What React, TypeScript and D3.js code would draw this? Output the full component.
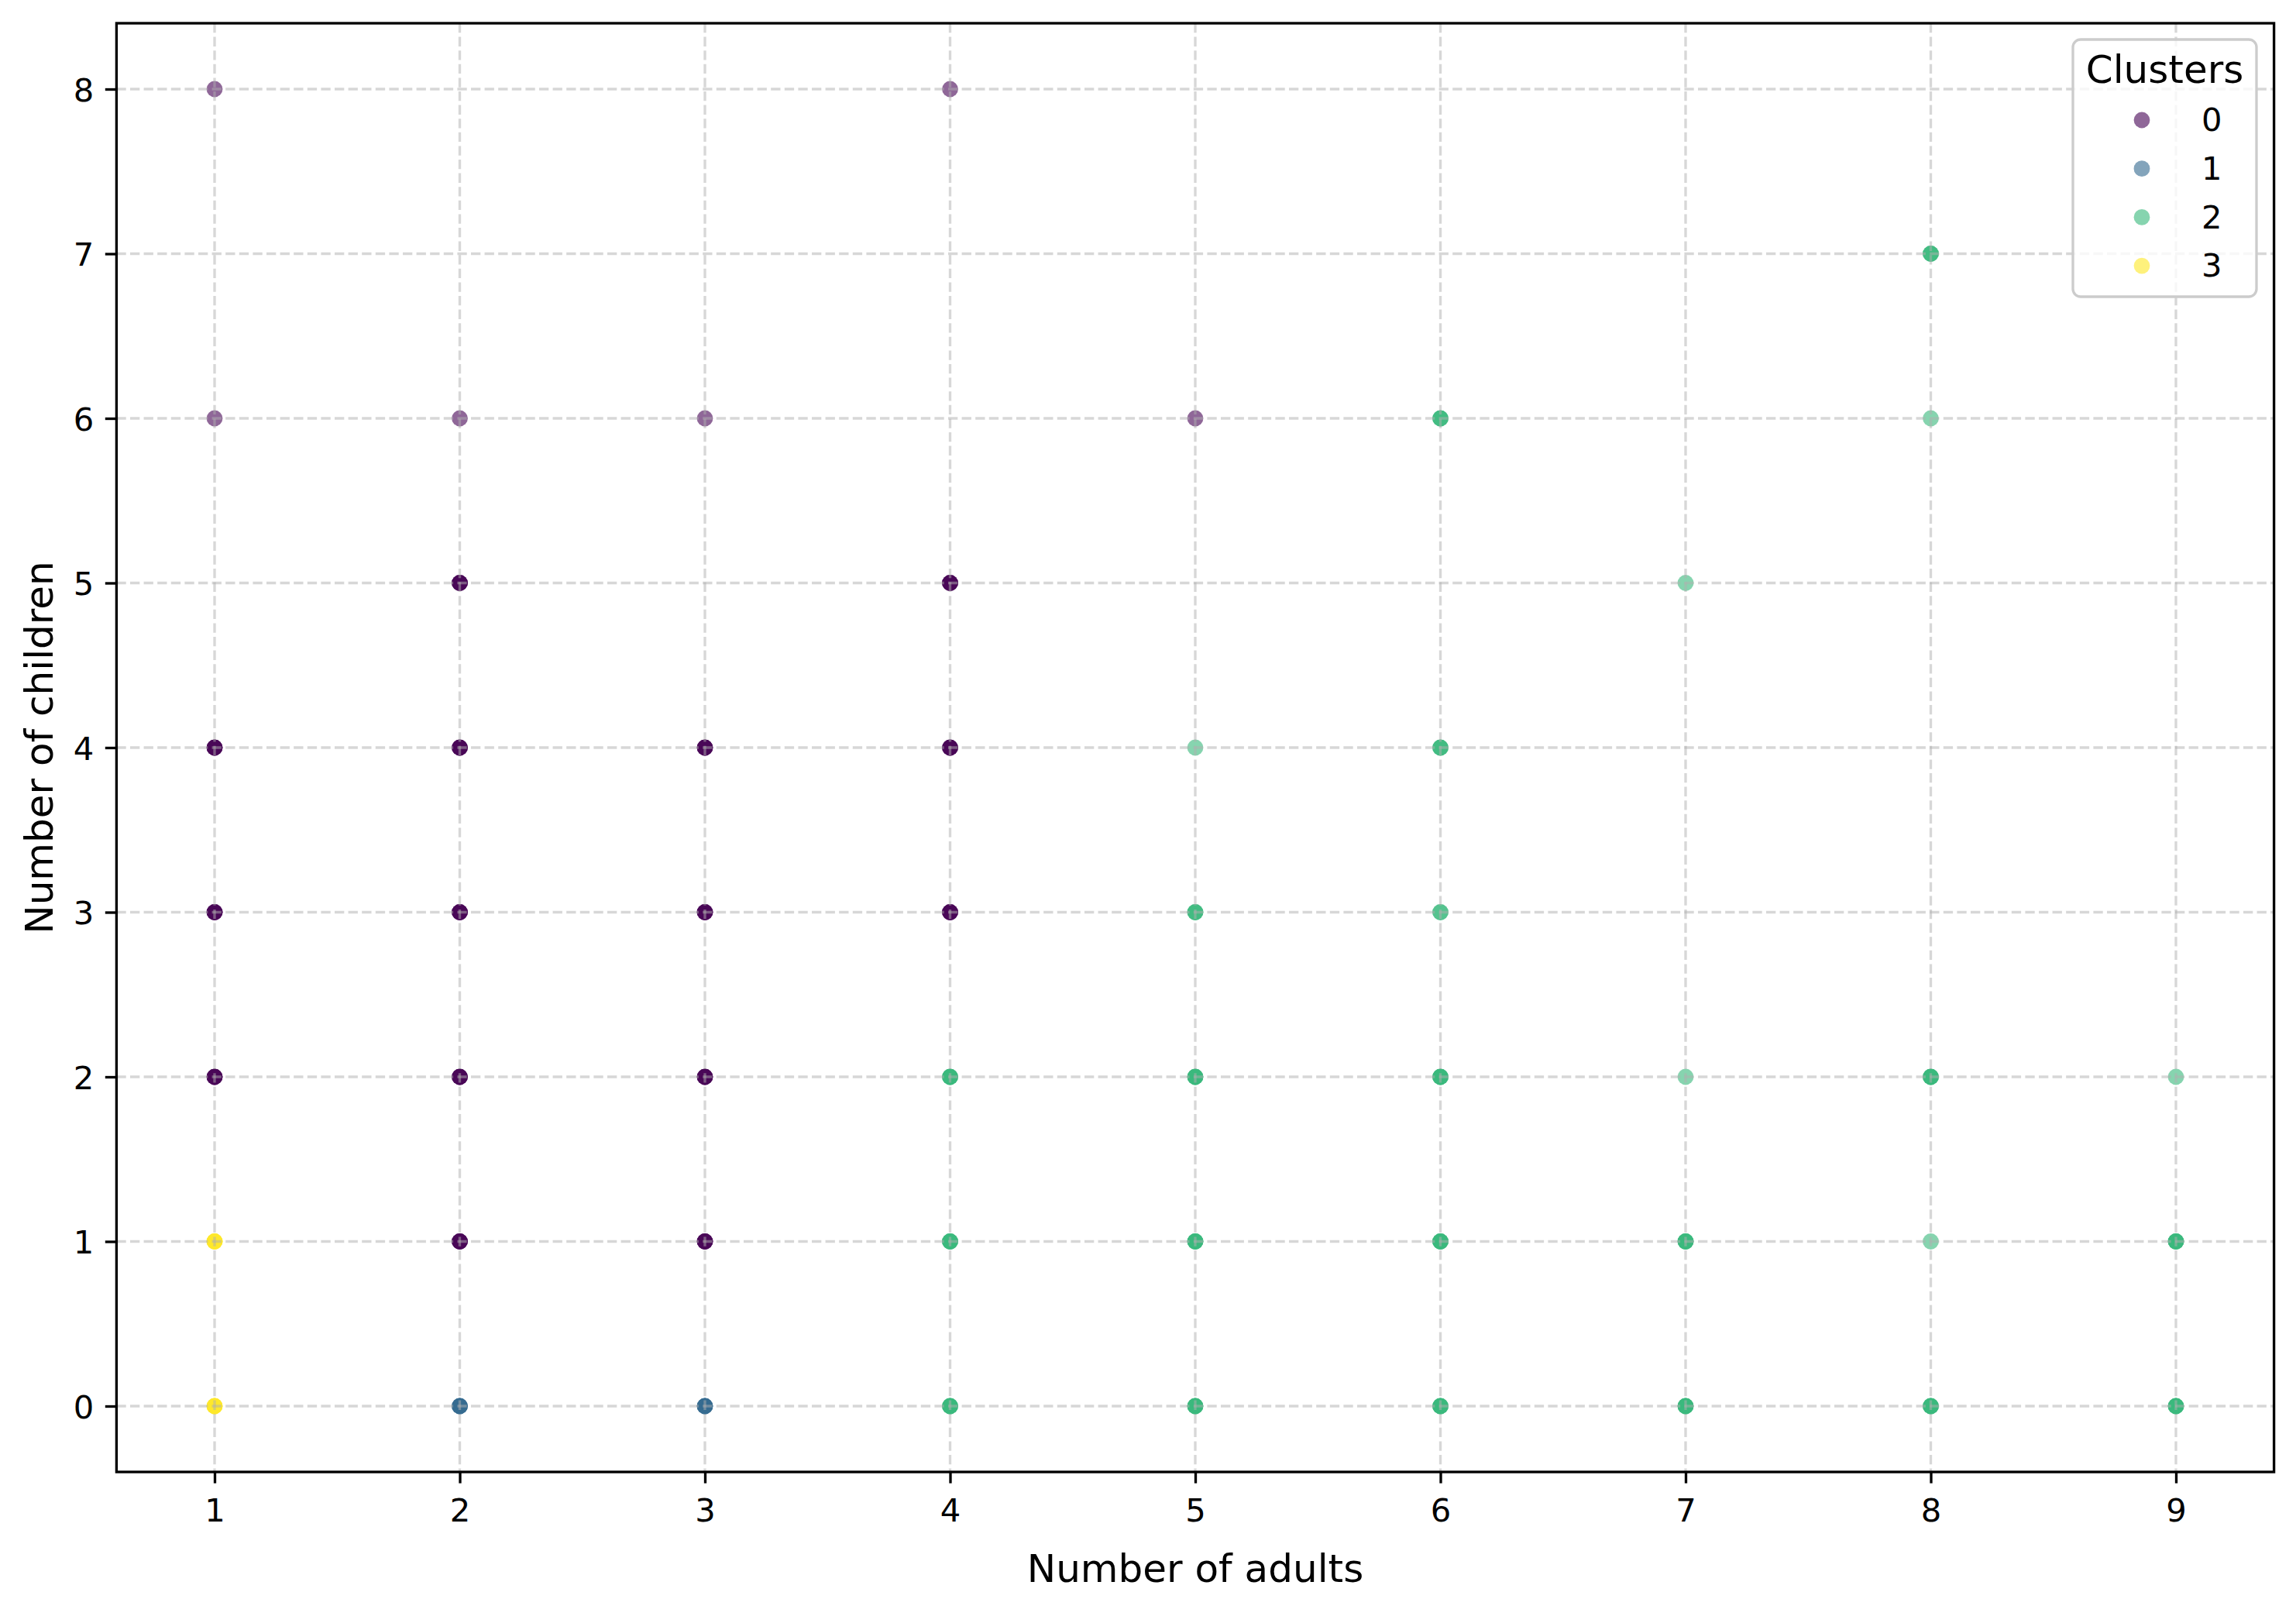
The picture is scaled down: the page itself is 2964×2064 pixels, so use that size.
import { useEffect, useRef } from 'react';
import * as d3 from 'd3';

// Scatter of households: adults vs children, coloured by k-means cluster.
// Dark markers are locations where several households overlap (alpha 0.6).
const adults = [1, 1, 2, 3, 4, 5, 2, 4, 1, 2, 3, 4, 1, 2, 3, 4, 1, 2, 3, 2, 3, 2, 3, 1, 1, 8, 8, 6, 7, 5, 6, 5, 6, 4, 5, 6, 7, 8, 9, 4, 5, 6, 7, 8, 9, 4, 5, 6, 7, 8, 9];
const children = [8, 6, 6, 6, 8, 6, 5, 5, 4, 4, 4, 4, 3, 3, 3, 3, 2, 2, 2, 1, 1, 0, 0, 1, 0, 7, 6, 6, 5, 4, 4, 3, 3, 2, 2, 2, 2, 2, 2, 1, 1, 1, 1, 1, 1, 0, 0, 0, 0, 0, 0];
const cluster = [0, 0, 0, 0, 0, 0, 0, 0, 0, 0, 0, 0, 0, 0, 0, 0, 0, 0, 0, 0, 0, 1, 1, 3, 3, 2, 2, 2, 2, 2, 2, 2, 2, 2, 2, 2, 2, 2, 2, 2, 2, 2, 2, 2, 2, 2, 2, 2, 2, 2, 2];
const overlap = [1, 1, 1, 1, 1, 1, 4, 4, 4, 4, 4, 4, 4, 4, 4, 4, 4, 4, 4, 4, 4, 4, 4, 4, 4, 3, 1, 3, 1, 1, 3, 3, 2, 4, 4, 4, 1, 4, 1, 4, 4, 4, 4, 1, 4, 4, 4, 4, 4, 4, 4];

const clusterLabels = ['0', '1', '2', '3'];
const xTicks = [1, 2, 3, 4, 5, 6, 7, 8, 9];
const yTicks = [0, 1, 2, 3, 4, 5, 6, 7, 8];

const W = 2964;
const H = 2064;
const FONT = '"DejaVu Sans", sans-serif';

export default function App() {
  const svgRef = useRef<SVGSVGElement>(null);

  useEffect(() => {
    document.body.style.margin = '0';
    if (!svgRef.current) return;

    const margin = { top: 30, right: W - 2935.6, bottom: H - 1900, left: 150.4 };
    const lw = 3.33; // 0.8pt at 300 dpi
    const tick = 14.6;

    const svg = d3.select(svgRef.current);
    svg.selectAll('*').remove();

    const x = d3.scaleLinear().domain([0.6, 9.4]).range([margin.left, W - margin.right]);
    const y = d3.scaleLinear().domain([-0.4, 8.4]).range([H - margin.bottom, margin.top]);
    const color = d3.scaleSequential(d3.interpolateViridis).domain([0, 3]);

    const points = adults.flatMap((a, i) =>
      d3.range(overlap[i]).map(() => ({ a, c: children[i], k: cluster[i] })),
    );

    // Punkte
    svg
      .append('g')
      .selectAll('circle')
      .data(points)
      .enter()
      .append('circle')
      .attr('cx', (d) => x(d.a))
      .attr('cy', (d) => y(d.c))
      .attr('r', 10.4)
      .attr('fill', (d) => color(d.k))
      .attr('fill-opacity', 0.6);

    // Grid (drawn above the scatter, like matplotlib)
    const grid = svg
      .append('g')
      .attr('stroke', '#b0b0b0')
      .attr('stroke-opacity', 0.5)
      .attr('stroke-width', lw)
      .attr('stroke-dasharray', '12.3,5.3');
    grid
      .selectAll('.gx')
      .data(xTicks)
      .enter()
      .append('line')
      .attr('x1', (d) => x(d))
      .attr('x2', (d) => x(d))
      .attr('y1', margin.top)
      .attr('y2', H - margin.bottom);
    grid
      .selectAll('.gy')
      .data(yTicks)
      .enter()
      .append('line')
      .attr('x1', margin.left)
      .attr('x2', W - margin.right)
      .attr('y1', (d) => y(d))
      .attr('y2', (d) => y(d));

    // Osi
    const xAxis = svg
      .append('g')
      .attr('transform', `translate(0,${H - margin.bottom})`)
      .call(d3.axisBottom(x).tickValues(xTicks).tickFormat(d3.format('d')).tickSize(tick).tickPadding(tick));
    xAxis.selectAll('text').attr('dy', '0.83em');

    const yAxis = svg
      .append('g')
      .attr('transform', `translate(${margin.left},0)`)
      .call(d3.axisLeft(y).tickValues(yTicks).tickFormat(d3.format('d')).tickSize(tick).tickPadding(tick));
    yAxis.selectAll('text').attr('dy', '0.36em');

    for (const ax of [xAxis, yAxis]) {
      ax.select('.domain').remove();
      ax.selectAll('.tick line').attr('stroke', '#000').attr('stroke-width', lw);
      ax.selectAll('text')
        .attr('fill', '#000')
        .style('font-family', FONT)
        .style('font-size', '41.7px');
    }

    // Spines
    svg
      .append('rect')
      .attr('x', margin.left)
      .attr('y', margin.top)
      .attr('width', W - margin.left - margin.right)
      .attr('height', H - margin.top - margin.bottom)
      .attr('fill', 'none')
      .attr('stroke', '#000')
      .attr('stroke-width', lw);

    // Axis labels
    svg
      .append('text')
      .attr('x', (margin.left + W - margin.right) / 2)
      .attr('y', 2042)
      .attr('text-anchor', 'middle')
      .style('font-family', FONT)
      .style('font-size', '50px')
      .text('Number of adults');

    svg
      .append('text')
      .attr('transform', `translate(68,${(margin.top + H - margin.bottom) / 2}) rotate(-90)`)
      .attr('text-anchor', 'middle')
      .style('font-family', FONT)
      .style('font-size', '50px')
      .text('Number of children');

    // Legenda
    const legend = svg.append('g').attr('transform', 'translate(2676,51)');
    legend
      .append('rect')
      .attr('width', 237)
      .attr('height', 332)
      .attr('rx', 10)
      .attr('fill', '#fff')
      .attr('fill-opacity', 0.8)
      .attr('stroke', '#cccccc')
      .attr('stroke-width', lw);
    legend
      .append('text')
      .attr('x', 118.5)
      .attr('y', 56)
      .attr('text-anchor', 'middle')
      .style('font-family', FONT)
      .style('font-size', '50px')
      .text('Clusters');
    clusterLabels.forEach((label, i) => {
      const cy = 104 + i * 62.7;
      legend
        .append('circle')
        .attr('cx', 89)
        .attr('cy', cy)
        .attr('r', 10.4)
        .attr('fill', color(i))
        .attr('fill-opacity', 0.6);
      legend
        .append('text')
        .attr('x', 166)
        .attr('y', cy)
        .attr('dy', '0.34em')
        .style('font-family', FONT)
        .style('font-size', '41.7px')
        .text(label);
    });
  }, []);

  return <svg ref={svgRef} width={W} height={H} style={{ display: 'block', background: '#fff' }} />;
}
